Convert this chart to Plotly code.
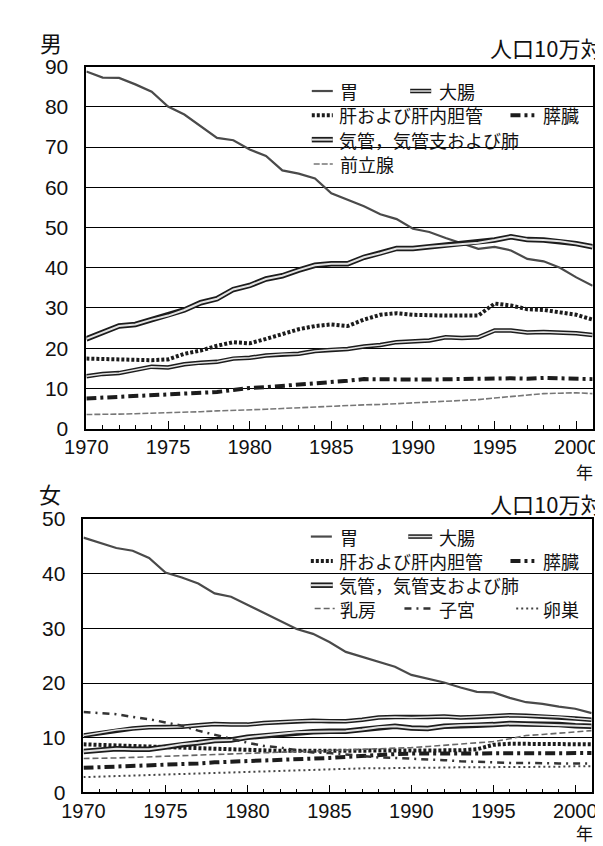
import plotly.graph_objects as go

years = list(range(1970, 2002))

# ---- male (男) rates, per 100,000 ----
m_stomach = [88.8, 87.3, 87.2, 85.6, 83.8, 80.1, 78.1, 75.1, 72.3, 71.7, 69.4, 67.8, 64.2, 63.4, 62.2, 58.5,
             56.9, 55.3, 53.3, 52.1, 49.7, 48.9, 47.4, 46.0, 44.7, 45.2, 44.3, 42.2, 41.6, 40.0, 37.6, 35.5]
m_colon = [13.0, 13.6, 13.8, 14.6, 15.4, 15.2, 16.0, 16.4, 16.6, 17.4, 17.6, 18.2, 18.5, 18.6, 19.3, 19.6,
           19.8, 20.4, 20.8, 21.5, 21.7, 21.9, 22.7, 22.5, 22.7, 24.4, 24.4, 23.9, 24.0, 23.9, 23.7, 23.3]
m_liver = [17.4, 17.3, 17.2, 17.2, 17.0, 17.2, 18.6, 19.4, 20.6, 21.5, 21.2, 22.3, 23.5, 24.7, 25.5, 25.9,
           25.5, 27.1, 28.3, 28.7, 28.3, 28.1, 28.1, 28.1, 28.1, 31.1, 30.6, 29.7, 29.5, 28.9, 28.3, 27.1]
m_pancreas = [7.5, 7.7, 7.9, 8.0, 8.2, 8.3, 8.6, 8.8, 9.1, 9.6, 10.1, 10.3, 10.6, 10.8, 11.1, 11.4,
              11.9, 12.3, 12.2, 12.1, 12.2, 12.2, 12.3, 12.4, 12.4, 12.6, 12.5, 12.4, 12.6, 12.5, 12.4, 12.3]
m_lung = [22.3, 23.9, 25.5, 25.9, 27.1, 28.1, 29.5, 31.3, 32.3, 34.6, 35.6, 37.2, 38.0, 39.4, 40.6, 41.0,
          41.0, 42.6, 43.6, 44.8, 44.8, 45.2, 45.5, 45.9, 46.2, 46.9, 47.7, 47.0, 46.9, 46.6, 46.0, 45.2]
m_prostate = [3.5, 3.5, 3.6, 3.7, 3.8, 3.9, 4.0, 4.2, 4.4, 4.5, 4.7, 4.8, 5.0, 5.2, 5.4, 5.6,
              5.7, 5.9, 6.0, 6.2, 6.4, 6.6, 6.8, 7.0, 7.2, 7.6, 8.0, 8.4, 8.7, 8.8, 8.9, 8.7]

# ---- female (女) rates, per 100,000 ----
f_stomach = [46.6, 45.6, 44.7, 44.2, 42.9, 40.2, 39.3, 38.2, 36.4, 35.8, 34.3, 32.8, 31.3, 29.9, 29.0, 27.5,
             25.7, 24.8, 23.8, 23.0, 21.5, 20.8, 20.1, 19.2, 18.4, 18.3, 17.3, 16.5, 16.2, 15.7, 15.3, 14.5]
f_colon = [10.4, 10.9, 11.4, 11.7, 11.9, 11.9, 12.0, 12.3, 12.5, 12.4, 12.4, 12.7, 12.9, 13.0, 13.1, 13.0,
           13.0, 13.3, 13.7, 13.8, 13.7, 13.8, 13.9, 13.7, 13.8, 14.0, 14.1, 14.0, 13.9, 13.8, 13.5, 13.3]
f_liver = [8.8, 8.7, 8.6, 8.5, 8.4, 8.3, 8.1, 8.0, 7.9, 7.8, 7.7, 7.7, 7.6, 7.6, 7.6, 7.6,
           7.6, 7.6, 7.6, 7.6, 7.6, 7.6, 7.6, 7.7, 7.9, 8.7, 8.9, 8.9, 8.9, 8.9, 8.9, 8.8]
f_pancreas = [4.5, 4.6, 4.7, 4.8, 4.9, 5.0, 5.1, 5.3, 5.5, 5.6, 5.7, 5.8, 5.9, 6.0, 6.2, 6.3,
              6.5, 6.7, 6.9, 7.0, 7.1, 7.1, 7.1, 7.1, 7.1, 7.2, 7.2, 7.2, 7.2, 7.2, 7.2, 7.2]
f_lung = [7.5, 7.8, 8.0, 7.9, 7.9, 8.3, 8.8, 9.1, 9.5, 9.6, 10.1, 10.4, 10.7, 11.0, 11.1, 11.2,
          11.2, 11.5, 11.9, 12.1, 11.8, 11.7, 12.1, 12.3, 12.3, 12.4, 12.6, 12.5, 12.5, 12.4, 12.2, 12.1]
f_breast = [6.2, 6.2, 6.3, 6.4, 6.5, 6.6, 6.7, 6.8, 6.9, 7.0, 7.1, 7.2, 7.3, 7.4, 7.5, 7.6,
            7.7, 7.8, 7.9, 8.0, 8.2, 8.4, 8.6, 8.8, 9.0, 9.3, 9.8, 10.4, 10.6, 10.8, 11.0, 11.3]
f_uterus = [14.7, 14.5, 14.3, 13.8, 13.4, 12.8, 12.2, 11.3, 10.5, 9.8, 9.1, 8.5, 8.2, 7.8, 7.3, 7.2,
            6.9, 6.7, 6.4, 6.3, 6.2, 6.0, 5.9, 5.7, 5.6, 5.4, 5.4, 5.4, 5.3, 5.3, 5.3, 5.3]
f_ovary = [2.8, 2.9, 3.0, 3.1, 3.2, 3.3, 3.4, 3.5, 3.6, 3.6, 3.7, 3.8, 3.9, 4.0, 4.1, 4.2,
           4.3, 4.4, 4.4, 4.5, 4.5, 4.5, 4.6, 4.6, 4.6, 4.6, 4.7, 4.7, 4.7, 4.7, 4.8, 4.8]

# tick labels
x_ticks = [1970, 1975, 1980, 1985, 1990, 1995, 2000]
m_yticks = list(range(0, 91, 10))
f_yticks = list(range(0, 51, 10))

W, H = 603, 846
FONT_NUM = "Liberation Sans, Arial, Noto Sans CJK JP"
FONT_JP = "Noto Sans CJK JP, Liberation Sans"
DARK = "#1c1c1c"


def py(p):
    return 1 - p / H


def px(p):
    return p / W


# styles (name -> list of (color, width, dash) layers)
STY = {
    "stomach": [("#4a4a4a", 2.2, "solid")],
    "colon": [(DARK, 4.5, "solid"), ("#e2e2e2", 1.5, "solid")],
    "liver": [(DARK, 4.0, "3px,2px")],
    "pancreas": [(DARK, 4.0, "10px,4px,3px,4px")],
    "lung": [(DARK, 5.5, "solid"), ("#e2e2e2", 2.0, "solid")],
    "prostate": [("#777777", 1.6, "6px,2px")],
    "breast": [("#666666", 1.6, "6px,3px")],
    "uterus": [("#333333", 2.5, "7px,5px,2px,5px")],
    "ovary": [("#444444", 2.0, "2px,3px")],
}

fig = go.Figure()


def add_series(y, key, xa, ya, name):
    for i, (c, w, d) in enumerate(STY[key]):
        fig.add_trace(go.Scatter(x=years, y=y, mode="lines", name=name, showlegend=False,
                                 line=dict(color=c, width=w, dash=d), xaxis=xa, yaxis=ya,
                                 hoverinfo="skip" if i else None))


add_series(m_stomach, "stomach", "x", "y", "胃")
add_series(m_colon, "colon", "x", "y", "大腸")
add_series(m_liver, "liver", "x", "y", "肝および肝内胆管")
add_series(m_pancreas, "pancreas", "x", "y", "膵臓")
add_series(m_lung, "lung", "x", "y", "気管，気管支および肺")
add_series(m_prostate, "prostate", "x", "y", "前立腺")

add_series(f_stomach, "stomach", "x2", "y2", "胃")
add_series(f_colon, "colon", "x2", "y2", "大腸")
add_series(f_liver, "liver", "x2", "y2", "肝および肝内胆管")
add_series(f_pancreas, "pancreas", "x2", "y2", "膵臓")
add_series(f_lung, "lung", "x2", "y2", "気管，気管支および肺")
add_series(f_breast, "breast", "x2", "y2", "乳房")
add_series(f_uterus, "uterus", "x2", "y2", "子宮")
add_series(f_ovary, "ovary", "x2", "y2", "卵巣")

xcommon = dict(range=[1970, 2001], tickvals=x_ticks, ticks="inside", ticklen=8, tickwidth=1.3,
               tickcolor="black", showline=True, mirror=True, linecolor="black", linewidth=1.8,
               showgrid=False, zeroline=False, tickfont=dict(family=FONT_NUM, size=20, color="#111"),
               minor=dict(dtick=1, ticks="inside", ticklen=4, tickwidth=1.1, tickcolor="black", showgrid=False),
               ticklabelstandoff=0)
ycommon = dict(ticks="", showline=True, mirror=True, linecolor="black", linewidth=1.8,
               showgrid=True, gridcolor="black", gridwidth=1.4, zeroline=False,
               tickfont=dict(family=FONT_NUM, size=21, color="#111"), ticklabelstandoff=12)

fig.update_layout(
    width=W, height=H, margin=dict(l=0, r=0, t=0, b=0),
    paper_bgcolor="white", plot_bgcolor="white", showlegend=False,
    xaxis=dict(domain=[px(59), px(589)], anchor="y", **xcommon),
    yaxis=dict(domain=[py(420), py(48)], range=[0, 90], tickvals=m_yticks, anchor="x", **ycommon),
    xaxis2=dict(domain=[px(56), px(588)], anchor="y2", **xcommon),
    yaxis2=dict(domain=[py(794), py(513)], range=[0, 50], tickvals=f_yticks, anchor="x2", **ycommon),
)

shapes = []
annots = []


def text(x, y, s, size=18, anchor="left", fam=FONT_JP):
    annots.append(dict(x=px(x), y=py(y), xref="paper", yref="paper", text=s, showarrow=False,
                       xanchor=anchor, yanchor="middle", font=dict(family=fam, size=size, color="#111")))


def sample(x0, x1, y, key):
    for c, w, d in STY[key]:
        shapes.append(dict(type="line", xref="paper", yref="paper", x0=px(x0), x1=px(x1), y0=py(y), y1=py(y),
                           line=dict(color=c, width=w, dash=d), layer="above"))


# legend background boxes (cover gridlines)
for (ya, yb) in [(58, 158), (516, 616)]:
    shapes.append(dict(type="rect", xref="paper", yref="paper", x0=px(319), x1=px(586), y0=py(yb), y1=py(ya),
                       fillcolor="white", line=dict(width=0), layer="between"))

# top legend
rows_m = [73, 98, 123, 148]
sample(295, 317, rows_m[0], "stomach"); text(322, rows_m[0], "胃")
sample(398, 420, rows_m[0], "colon"); text(426, rows_m[0], "大腸")
sample(295, 317, rows_m[1], "liver"); text(321, rows_m[1], "肝および肝内胆管")
sample(503, 528, rows_m[1], "pancreas"); text(535, rows_m[1], "膵臓")
sample(295, 317, rows_m[2], "lung"); text(321, rows_m[2], "気管，気管支および肺")
sample(297, 317, rows_m[3], "prostate"); text(322, rows_m[3], "前立腺")

# bottom legend
rows_f = [531, 556, 581, 605]
sample(294, 316, rows_f[0], "stomach"); text(322, rows_f[0], "胃")
sample(396, 421, rows_f[0], "colon"); text(426, rows_f[0], "大腸")
sample(294, 317, rows_f[1], "liver"); text(321, rows_f[1], "肝および肝内胆管")
sample(503, 528, rows_f[1], "pancreas"); text(535, rows_f[1], "膵臓")
sample(294, 317, rows_f[2], "lung"); text(321, rows_f[2], "気管，気管支および肺")
sample(298, 319, rows_f[3], "breast"); text(322, rows_f[3], "乳房")
sample(392, 421, rows_f[3], "uterus"); text(426, rows_f[3], "子宮")
sample(509, 532, rows_f[3], "ovary"); text(535, rows_f[3], "卵巣")

# titles / units
text(22, 23, "男", size=22, anchor="center")
text(601, 28, "人口10万対", size=22, anchor="right")
text(580, 464, "年", size=17, anchor="center")
text(21, 486, "女", size=22, anchor="center")
text(601, 496, "人口10万対", size=22, anchor="right")
text(580, 835, "年", size=17, anchor="center")

fig.update_layout(shapes=shapes, annotations=annots)
fig.write_html("out.html")
